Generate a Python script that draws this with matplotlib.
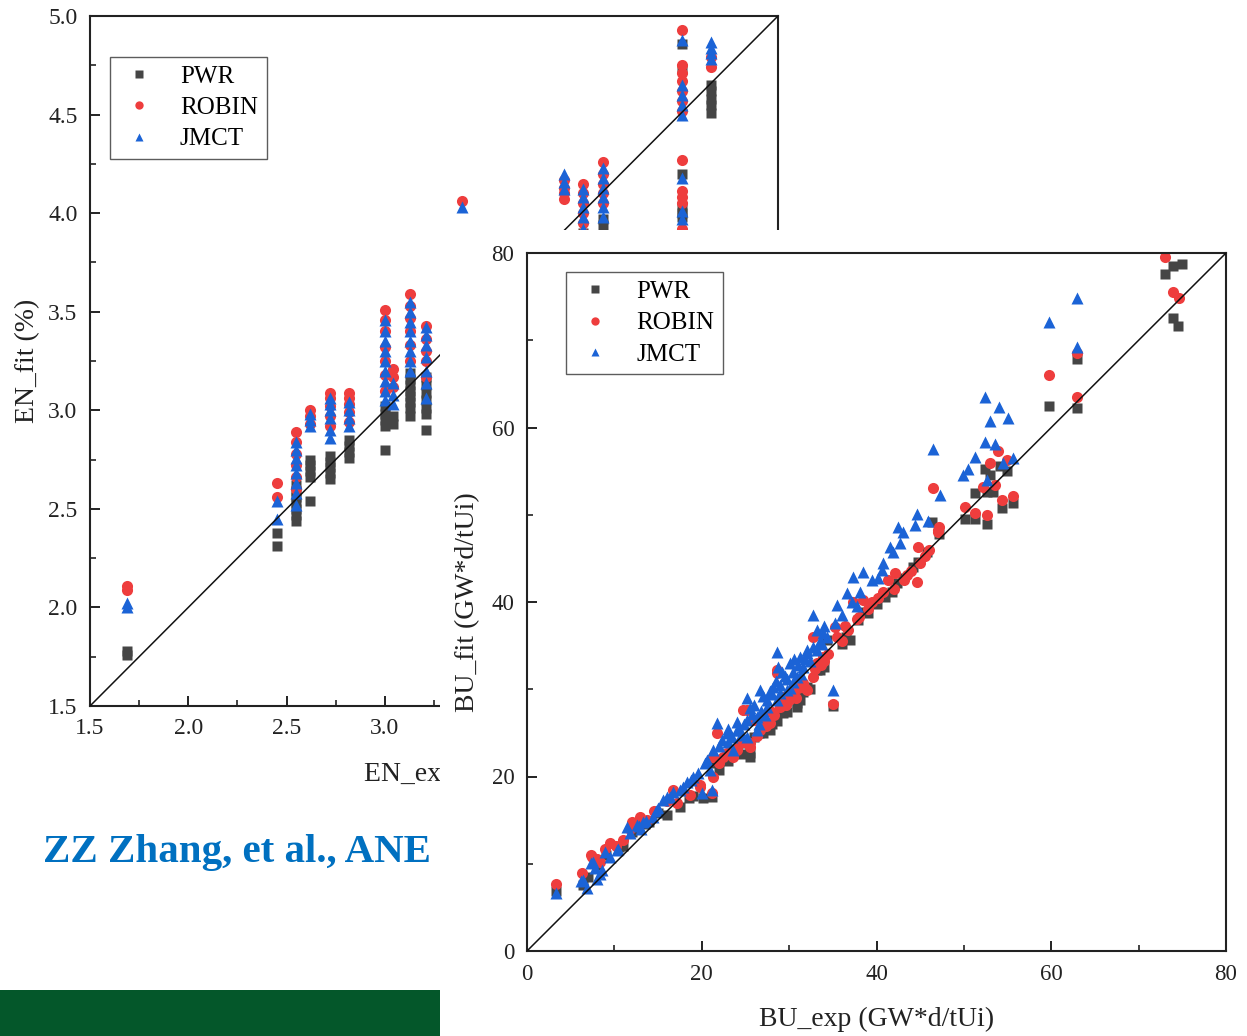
import matplotlib
matplotlib.use("Agg")
import matplotlib.pyplot as plt
from matplotlib.patches import Rectangle
from matplotlib.ticker import MultipleLocator
from matplotlib.transforms import Bbox, TransformedBbox

plt.rcParams['font.family'] = ['Liberation Serif', 'DejaVu Serif']

# ---- EN panel: one x value per column, y values per series ----
en_cols = [1.69, 2.45, 2.55, 2.62, 2.72, 2.82, 3.00, 3.04, 3.13, 3.21,
           3.39, 3.91, 4.01, 4.11, 4.51, 4.66]
en_pwr = [[1.76, 1.78], [2.31, 2.38],
          [2.44, 2.47, 2.50, 2.53, 2.56, 2.59, 2.62],
          [2.54, 2.66, 2.69, 2.72, 2.75],
          [2.65, 2.68, 2.71, 2.74, 2.77],
          [2.76, 2.79, 2.82, 2.85],
          [2.80, 2.92, 2.95, 2.98, 3.02],
          [2.93, 2.97],
          [2.97, 3.01, 3.04, 3.07, 3.10, 3.13, 3.16, 3.19],
          [2.90, 2.98, 3.01, 3.05, 3.09, 3.13, 3.17],
          [3.30, 3.36], [3.70, 3.75], [3.78, 3.85, 3.90], [3.94, 3.97],
          [4.86, 4.73, 4.20, 4.03, 4.00, 3.98],
          [4.51, 4.55, 4.58, 4.62, 4.65]]
en_robin = [[2.09, 2.11], [2.56, 2.63],
            [2.60, 2.66, 2.72, 2.78, 2.84, 2.89],
            [2.93, 2.97, 3.00],
            [2.92, 2.97, 3.02, 3.06, 3.09],
            [2.94, 2.99, 3.03, 3.06, 3.09],
            [3.10, 3.18, 3.25, 3.32, 3.40, 3.46, 3.51],
            [3.12, 3.17, 3.21],
            [3.25, 3.33, 3.40, 3.47, 3.53, 3.59],
            [3.17, 3.25, 3.30, 3.36, 3.43],
            [3.50, 4.06], [4.07, 4.10, 4.13, 4.17],
            [3.90, 3.95, 4.00, 4.05, 4.10, 4.15],
            [4.05, 4.10, 4.15, 4.20, 4.26],
            [4.93, 4.75, 4.71, 4.67, 4.62, 4.57, 4.52, 4.27, 4.11, 4.08, 4.05, 3.92],
            [4.74, 4.79]]
en_jmct = [[2.00, 2.02], [2.45, 2.54],
           [2.52, 2.58, 2.63, 2.68, 2.72, 2.76, 2.80, 2.84],
           [2.92, 2.95, 2.98],
           [2.86, 2.90, 2.96, 3.00, 3.03, 3.06],
           [2.92, 2.96, 3.00, 3.04],
           [3.05, 3.10, 3.15, 3.20, 3.25, 3.30, 3.35, 3.40, 3.46],
           [3.03, 3.08, 3.14],
           [3.20, 3.25, 3.30, 3.35, 3.40, 3.45, 3.50, 3.55],
           [3.06, 3.14, 3.20, 3.27, 3.33, 3.38, 3.42],
           [4.03], [4.12, 4.16, 4.20],
           [3.85, 3.92, 3.98, 4.03, 4.08, 4.12],
           [3.98, 4.03, 4.08, 4.13, 4.18, 4.23],
           [4.88, 4.65, 4.60, 4.55, 4.50, 4.18, 4.01, 3.97],
           [4.78, 4.81, 4.84, 4.87]]

# ---- BU panel ----
bu_pwr_x = [3.3, 6.4, 7.0, 8.0, 9.0, 10.5, 12.0, 13.5, 15.0, 17.5, 18.5, 20.1, 21.2,
            21.0, 22.5, 24.0, 25.5, 25.5, 26.5, 27.8, 29.3, 30.9, 30.9, 31.6, 32.0,
            33.2, 33.5, 33.9, 34.3, 35.0, 37.0, 37.9, 38.7, 41.0, 42.3, 44.2, 45.8,
            46.3, 47.1, 50.1, 51.3, 51.3, 52.4, 52.6, 52.6, 53.0, 53.3, 54.1, 54.4,
            54.9, 55.6, 59.7, 63.0, 63.0, 73.0, 73.9, 75.0, 73.9, 74.5,
            26.0, 28.0, 29.0, 36.0, 40.0, 43.0,
            22.0, 23.0, 24.6, 25.0, 27.0, 28.6, 29.8, 31.2, 32.4, 34.0, 36.5, 39.0,
            41.8, 44.8, 16.0, 19.0, 11.0, 14.0]
bu_pwr_y = [6.9, 7.6, 8.5, 9.8, 11.0, 11.9, 13.6, 14.5, 15.8, 16.5, 17.5, 17.5, 17.6,
            21.5, 22.0, 23.2, 22.2, 22.7, 25.0, 25.3, 27.3, 28.0, 28.4, 29.7, 30.3,
            32.2, 32.2, 33.0, 35.6, 28.1, 35.6, 37.9, 38.9, 40.6, 42.2, 44.0, 45.7,
            49.2, 47.8, 49.5, 49.5, 52.5, 55.2, 48.9, 52.6, 54.6, 52.6, 55.6, 50.8,
            55.0, 51.3, 62.5, 67.8, 62.2, 77.6, 78.5, 78.7, 72.5, 71.6,
            24.5, 26.0, 27.9, 35.2, 39.8, 42.8,
            20.8, 21.8, 22.6, 23.8, 25.0, 26.4, 27.4, 28.8, 30.0, 32.5, 36.0, 38.7,
            41.2, 44.6, 15.6, 17.8, 12.0, 14.8]

bu_robin_x = [3.3, 6.3, 7.3, 7.4, 8.4, 8.9, 9.5, 11.0, 11.8, 12.0, 12.9, 13.7, 16.7,
              17.2, 18.7, 19.8, 19.8, 21.2, 21.3, 21.3, 21.7, 22.4, 22.9, 23.6, 23.6,
              24.4, 24.7, 25.2, 25.5, 25.5, 26.7, 27.8, 28.6, 28.6, 29.0, 29.3, 30.4,
              30.4, 31.6, 32.0, 32.7, 32.7, 33.2, 33.9, 35.0, 35.2, 35.5, 36.7, 37.3,
              38.5, 40.7, 41.3, 42.1, 43.5, 44.6, 44.7, 46.5, 47.0, 47.0, 47.1, 50.1,
              51.3, 52.6, 52.2, 53.0, 53.6, 53.9, 54.4, 54.9, 55.6, 59.7, 63.0, 63.0,
              73.0, 73.9, 74.6,
              26.0, 27.0, 28.0, 30.0, 31.0, 33.0, 34.0, 36.0, 38.0, 39.5, 42.0, 45.5, 46.0,
              22.0, 23.0, 24.0, 25.0, 26.3, 27.3, 28.3, 29.6, 30.8, 31.8, 33.6, 34.5,
              36.4, 37.8, 39.0, 40.2, 43.2, 44.0, 45.0, 16.0, 14.5, 10.2, 8.0]
bu_robin_y = [7.7, 8.9, 11.0, 10.8, 10.2, 11.7, 12.4, 12.7, 14.0, 14.8, 15.4, 15.0, 18.5,
              17.0, 17.9, 19.0, 18.8, 18.1, 19.9, 22.2, 25.0, 22.2, 22.7, 22.2, 23.0,
              23.8, 27.6, 27.6, 23.4, 23.8, 25.3, 26.1, 31.9, 32.2, 28.0, 29.1, 29.6,
              29.9, 30.7, 29.9, 31.4, 36.0, 33.0, 33.7, 28.3, 37.1, 36.0, 36.8, 40.0,
              40.2, 41.1, 42.5, 43.3, 43.1, 42.3, 46.3, 53.1, 48.2, 48.0, 48.6, 50.9,
              50.2, 50.0, 53.2, 55.9, 53.4, 57.3, 51.7, 56.3, 52.1, 66.0, 68.5, 63.5,
              79.5, 75.5, 74.8,
              26.5, 26.8, 27.4, 28.8, 30.2, 32.3, 33.2, 35.5, 38.3, 40.0, 41.5, 45.3, 46.0,
              21.5, 22.6, 23.0, 24.0, 24.6, 25.8, 27.0, 28.2, 29.0, 30.2, 32.8, 34.0,
              37.2, 38.0, 39.2, 40.5, 42.5, 43.5, 44.5, 17.2, 16.0, 12.0, 10.5]

bu_jmct_x = [3.3, 6.2, 6.9, 6.4, 7.3, 7.6, 8.0, 8.3, 8.6, 8.9, 10.3, 10.4, 11.4, 11.8,
             12.6, 12.8, 13.3, 13.6, 14.4, 15.0, 15.6, 16.0, 16.4, 16.7, 17.5, 17.9,
             18.3, 19.0, 19.6, 20.0, 21.2, 20.4, 20.6, 20.9, 21.3, 21.7, 22.3, 22.9,
             23.5, 23.6, 24.0, 24.4, 25.2, 25.2, 25.2, 26.3, 26.3, 26.7, 27.5, 27.5,
             28.2, 28.6, 28.6, 28.7, 29.8, 30.1, 30.1, 30.9, 31.2, 31.6, 32.0, 32.0,
             32.7, 32.7, 33.2, 33.2, 33.9, 35.0, 35.2, 35.5, 36.6, 37.2, 37.3, 38.1,
             38.5, 40.6, 40.7, 41.5, 41.9, 42.7, 42.5, 43.0, 44.4, 44.6, 45.9, 46.5,
             47.3, 49.9, 50.5, 51.3, 52.6, 52.4, 53.6, 54.5, 55.6, 53.0, 54.0, 55.0,
             52.4, 59.7, 63.0, 63.0,
             22.0, 23.0, 24.8, 25.8, 26.8, 27.0, 28.0, 29.0, 29.5, 30.5, 31.0, 31.8,
             33.8, 34.3, 36.0, 37.8, 39.5, 40.2,
             23.0, 24.0, 24.5, 25.5, 26.0, 27.2, 27.8, 28.5, 29.2, 29.8, 30.6, 31.4,
             32.4, 33.5, 34.0, 26.5, 29.0, 30.4, 18.8, 14.8, 13.0, 9.5, 7.8]
bu_jmct_y = [6.7, 8.0, 7.2, 8.1, 10.1, 10.2, 8.3, 8.8, 9.3, 11.3, 11.6, 11.7, 14.2, 13.5,
             14.4, 14.3, 14.8, 14.9, 15.4, 16.4, 17.3, 17.7, 17.7, 18.2, 18.5, 18.8,
             19.4, 19.9, 20.4, 18.1, 18.4, 21.5, 21.9, 20.7, 23.0, 26.1, 24.2, 25.0,
             24.5, 23.0, 25.3, 25.3, 24.5, 26.5, 29.0, 26.8, 25.3, 29.9, 28.0, 28.8,
             30.3, 28.8, 34.3, 32.5, 29.9, 30.1, 33.0, 31.4, 33.7, 32.5, 34.1, 34.5,
             34.8, 38.5, 34.5, 36.8, 36.4, 29.9, 37.6, 39.7, 41.0, 40.0, 42.9, 41.1,
             43.4, 43.7, 44.5, 46.3, 45.7, 46.8, 48.6, 48.0, 48.8, 50.1, 49.3, 57.5,
             52.3, 54.6, 55.2, 56.6, 54.0, 58.3, 58.1, 55.9, 56.5, 60.7, 62.3, 61.1,
             63.5, 72.1, 74.8, 69.2,
             23.5, 24.0, 26.0, 27.2, 27.5, 29.2, 29.5, 30.5, 31.5, 32.0, 32.8, 33.5,
             35.2, 36.0, 38.5, 39.5, 42.5, 42.8,
             25.5, 26.2, 24.8, 27.8, 28.2, 27.0, 29.8, 31.0, 32.0, 31.2, 33.5, 31.8,
             33.2, 35.5, 37.2, 26.0, 29.6, 30.8, 19.6, 16.0, 14.0, 10.8, 9.5]

labels = ['PWR', 'ROBIN', 'JMCT']
colors = ['#454545', '#ee3d3d', '#1b63d6']
markers = ['s', 'o', '^']
msizes = [7, 8, 8.5]

W, H = 1247, 1036
fig = plt.figure(figsize=(W / 100, H / 100), dpi=100)


def style_axes(ax, tick_size):
    for sp in ax.spines.values():
        sp.set_linewidth(1.5)
        sp.set_color('#222222')
    ax.tick_params(which='both', direction='in', top=False, right=False,
                   labelsize=tick_size, labelcolor='#222222', color='#222222')
    ax.tick_params(which='major', length=7, width=1.4, pad=9)
    ax.tick_params(which='minor', length=4.5, width=1.2)


def flatten(cols, vals):
    xs, ys = [], []
    for c, v in zip(cols, vals):
        xs += [c] * len(v)
        ys += v
    return xs, ys


# left (EN) panel
ax1 = fig.add_axes([90 / W, 1 - 706 / H, 688 / W, 690 / H], zorder=0)
for vals, lab, c, m, ms in zip([en_pwr, en_robin, en_jmct], labels, colors, markers, msizes):
    xs, ys = flatten(en_cols, vals)
    ax1.plot(xs, ys, linestyle='none', marker=m, ms=ms, color=c, mec='none', label=lab)
ax1.plot([1.5, 5.0], [1.5, 5.0], color='#111111', lw=1.1, zorder=4)
ax1.set_xlim(1.5, 5.0)
ax1.set_ylim(1.5, 5.0)
ax1.xaxis.set_major_locator(MultipleLocator(0.5))
ax1.xaxis.set_minor_locator(MultipleLocator(0.25))
ax1.yaxis.set_major_locator(MultipleLocator(0.5))
ax1.yaxis.set_minor_locator(MultipleLocator(0.25))
style_axes(ax1, 17)
ax1.set_xlabel('EN_exp (%)', fontsize=20, labelpad=16, color='#222222')
ax1.set_ylabel('EN_fit (%)', fontsize=20, labelpad=6, color='#222222')
# the second panel hides the right part of this label
visible = TransformedBbox(Bbox([[0, 0], [440 / W, 1]]), fig.transFigure)
ax1.xaxis.label.set_clip_box(visible)
ax1.xaxis.label.set_clip_on(True)
leg1 = ax1.legend(loc='upper left', bbox_to_anchor=(0.029, 0.941), borderaxespad=0,
                  fontsize=18, frameon=True, fancybox=False, edgecolor='#333333',
                  markerscale=0.75, handletextpad=0.85, labelspacing=0.35,
                  borderpad=0.35, handlelength=1.6)
leg1.get_frame().set_linewidth(1.0)

# white panel of the second figure covering the first one
fig.add_artist(Rectangle((440 / W, 0), 1 - 440 / W, 1 - 230 / H,
                         transform=fig.transFigure, facecolor='white',
                         edgecolor='none', zorder=1))

# right (BU) panel
ax2 = fig.add_axes([527 / W, 1 - 951 / H, 699 / W, 698 / H], zorder=2)
bu_series = [(bu_pwr_x, bu_pwr_y), (bu_robin_x, bu_robin_y), (bu_jmct_x, bu_jmct_y)]
for (xs, ys), lab, c, m, ms in zip(bu_series, labels, colors, markers, msizes):
    ax2.plot(xs, ys, linestyle='none', marker=m, ms=ms, color=c, mec='none', label=lab)
ax2.plot([0, 80], [0, 80], color='#111111', lw=1.1, zorder=4)
ax2.set_xlim(0, 80)
ax2.set_ylim(0, 80)
ax2.xaxis.set_major_locator(MultipleLocator(20))
ax2.xaxis.set_minor_locator(MultipleLocator(10))
ax2.yaxis.set_major_locator(MultipleLocator(20))
ax2.yaxis.set_minor_locator(MultipleLocator(10))
style_axes(ax2, 16.5)
ax2.set_xlabel('BU_exp (GW*d/tUi)', fontsize=20, labelpad=16, color='#222222')
ax2.set_ylabel('BU_fit (GW*d/tUi)', fontsize=20, labelpad=8, color='#222222')
leg2 = ax2.legend(loc='upper left', bbox_to_anchor=(0.056, 0.973), borderaxespad=0,
                  fontsize=18, frameon=True, fancybox=False, edgecolor='#333333',
                  markerscale=0.75, handletextpad=0.85, labelspacing=0.35,
                  borderpad=0.35, handlelength=1.6)
leg2.get_frame().set_linewidth(1.0)

# citation and green footer bar
fig.text(237 / W, 1 - 862 / H, 'ZZ Zhang, et al., ANE', ha='center', va='baseline',
         fontsize=29.5, fontweight='bold', color='#0070c0', zorder=3)
fig.add_artist(Rectangle((0, 0), 440 / W, 46 / H, transform=fig.transFigure,
                         facecolor='#04572a', edgecolor='none', zorder=3))

fig.savefig('out.png', dpi=100)
